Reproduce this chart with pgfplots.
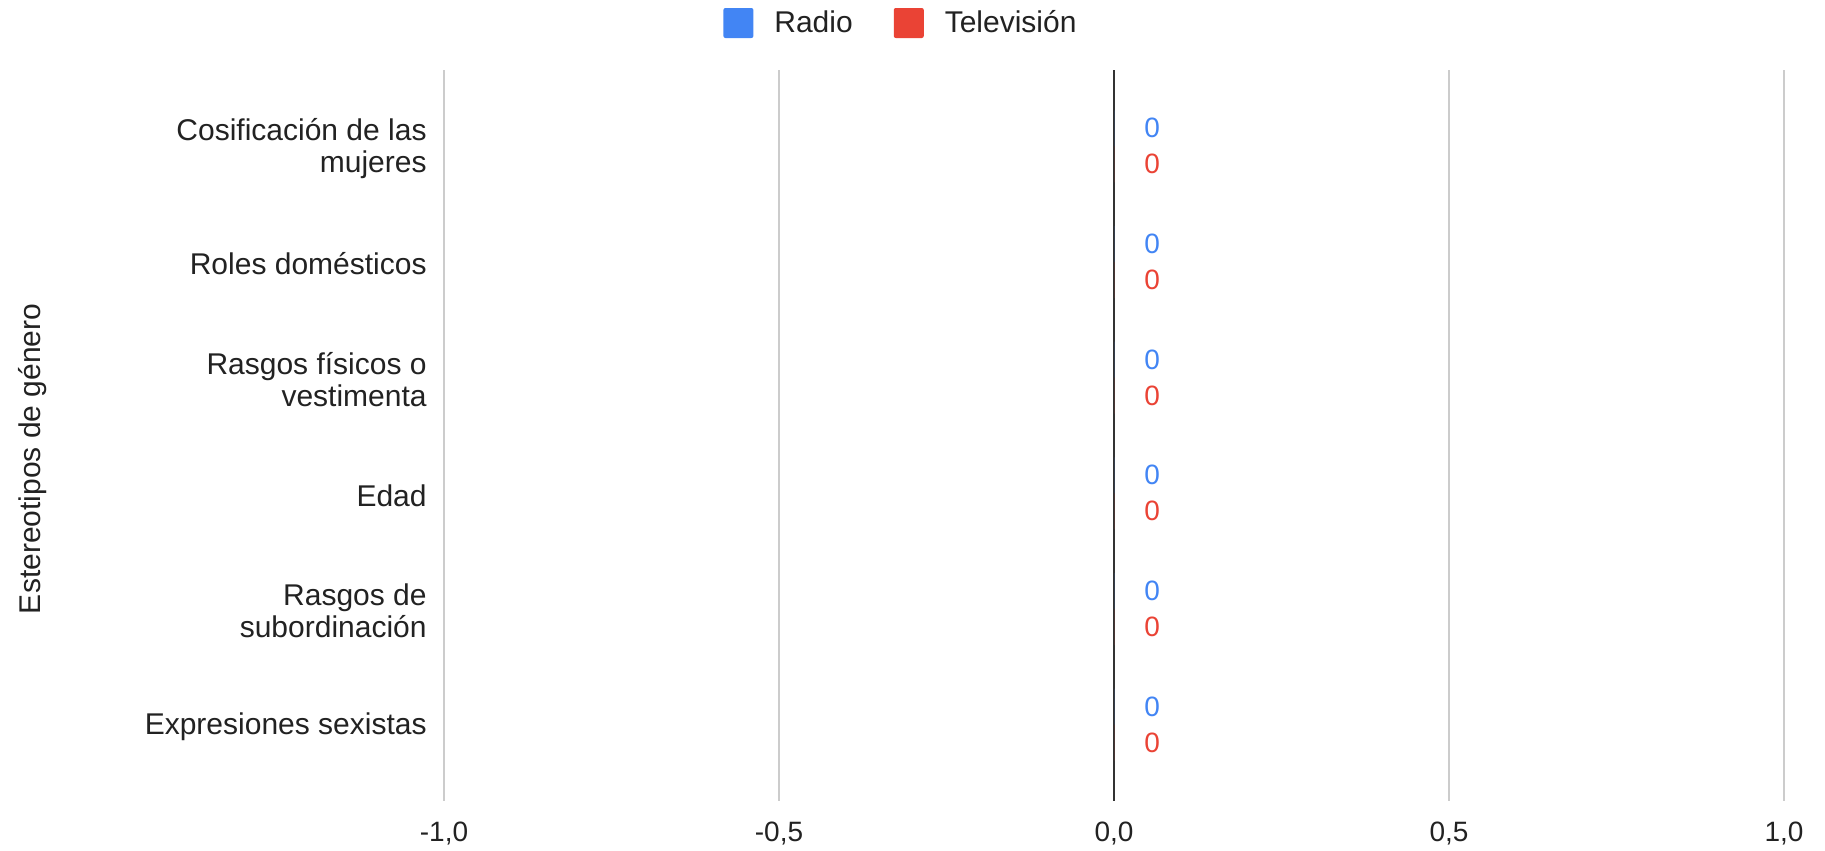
\documentclass[border=0pt]{standalone}
\usepackage{fontspec}
\setmainfont{Liberation Sans}
\usepackage{pgfplots}
\pgfplotsset{compat=1.18}
\definecolor{radioblue}{HTML}{4285F4}
\definecolor{tvred}{HTML}{EA4335}
\definecolor{gridgray}{HTML}{CCCCCC}
\definecolor{txt}{HTML}{222222}
\definecolor{zeroline}{HTML}{333333}
\begin{document}
\begin{tikzpicture}
\useasboundingbox (-222bp,-25bp) rectangle (690.5bp,400.5bp);
\begin{axis}[
  at={(0,0)}, anchor=south west,
  scale only axis, width=670bp, height=365.5bp,
  xbar=0pt, bar width=18bp,
  xmin=-1, xmax=1, ymin=-0.66, ymax=5.66, y dir=reverse,
  xtick={-1,-0.5,0,0.5,1},
  xticklabels={{-1,0},{-0,5},{0,0},{0,5},{1,0}},
  ytick={0,1,2,3,4,5},
  yticklabels={{Cosificación de las\\mujeres},{Roles domésticos},{Rasgos físicos o\\vestimenta},{Edad},{Rasgos de\\subordinación},{Expresiones sexistas}},
  axis line style={draw=none},
  major tick length=0pt,
  tick style={draw=none},
  xmajorgrids,
  major grid style={draw=gridgray, line width=1bp},
  extra x ticks={0},
  extra x tick labels={},
  extra x tick style={major grid style={draw=zeroline, line width=1.3bp}},
  xticklabel style={anchor=north, inner sep=0pt, yshift=-10.5bp, text=txt, font=\fontsize{14bp}{16bp}\selectfont},
  yticklabel style={anchor=east, inner sep=0pt, xshift=-8.5bp, yshift=-1bp, align=right, text=txt, font=\fontsize{15bp}{15.85bp}\selectfont},
  ylabel={Estereotipos de género},
  ylabel style={at={(axis description cs:-0.3067,0.468)}, anchor=center, text=txt, font=\fontsize{15bp}{16bp}\selectfont},
  point meta=x,
  nodes near coords={\pgfmathprintnumber[assume math mode=true]{\pgfplotspointmeta}},
  every node near coord/.append style={anchor=west, inner sep=0pt, xshift=15bp, font=\fontsize{14bp}{15bp}\selectfont},
  legend columns=2,
  legend image code/.code={\fill[#1, rounded corners=1bp] (0bp,-7.5bp) rectangle (15bp,7.5bp);},
  legend style={at={(axis description cs:0,1)}, anchor=west, xshift=139.5bp, yshift=23.5bp,
    draw=none, fill=none, inner sep=0pt,
    nodes={inner sep=0pt, text=txt, font=\fontsize{15bp}{16bp}\selectfont},
    /tikz/every odd column/.append style={column sep=10.5bp},
    /tikz/every even column/.append style={column sep=20.5bp}},
  clip=false,
]
\addplot[fill=radioblue, draw=none, bar shift=9bp, every node near coord/.append style={text=radioblue}] coordinates {(0,0) (0,1) (0,2) (0,3) (0,4) (0,5)};
\addlegendentry{Radio}
\addplot[fill=tvred, draw=none, bar shift=-9bp, every node near coord/.append style={text=tvred}] coordinates {(0,0) (0,1) (0,2) (0,3) (0,4) (0,5)};
\addlegendentry{Televisión}
\end{axis}
\end{tikzpicture}
\end{document}
